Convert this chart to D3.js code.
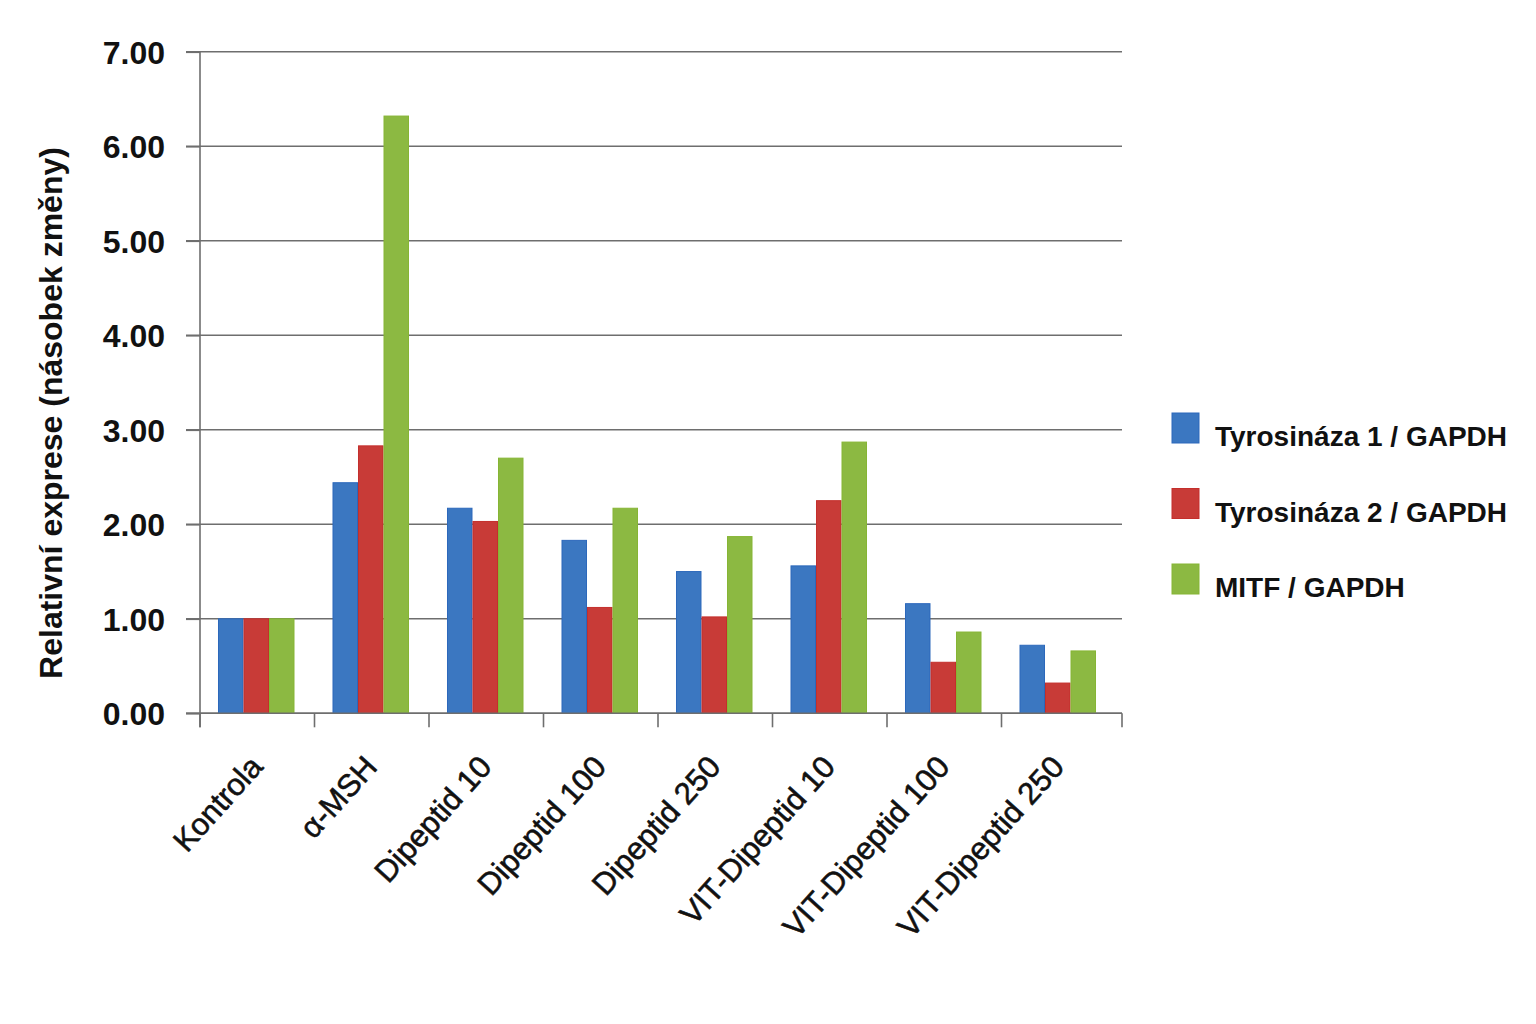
<!DOCTYPE html>
<html>
<head>
<meta charset="utf-8">
<script src="https://cdn.jsdelivr.net/npm/d3@7"></script>
<style>
  html, body { margin: 0; padding: 0; background: #ffffff; }
  svg { display: block; }
</style>
</head>
<body>
<svg id="chart" width="1536" height="1024"></svg>
<script>
// ---- data ----
const categories = ["Kontrola", "\u03B1-MSH", "Dipeptid 10", "Dipeptid 100", "Dipeptid 250", "VIT-Dipeptid 10", "VIT-Dipeptid 100", "VIT-Dipeptid 250"];
const seriesNames = ["Tyrosináza 1 / GAPDH", "Tyrosináza 2 / GAPDH", "MITF / GAPDH"];
const tyrosinaza1 = [1.00, 2.44, 2.17, 1.83, 1.50, 1.56, 1.16, 0.72];
const tyrosinaza2 = [1.00, 2.83, 2.03, 1.12, 1.02, 2.25, 0.54, 0.32];
const mitf        = [1.00, 6.32, 2.70, 2.17, 1.87, 2.87, 0.86, 0.66];
const yTicks = [0, 1, 2, 3, 4, 5, 6, 7];
const yTitle = "Relativní exprese (násobek změny)";

const seriesValues = [tyrosinaza1, tyrosinaza2, mitf];
const colors = ["#3b77c1", "#c83b37", "#8cb942"];
const strokes = ["#2c68bb", "#c42f2c", "#86b534"];

// ---- layout ----
const svg = d3.select("#chart");
const plotLeft = 200, plotRight = 1122, bandRight = 1116, plotTop = 51.8, plotBottom = 713.3;

const x = d3.scaleBand().domain(categories).range([plotLeft, bandRight]).padding(0);
const x1 = d3.scaleBand().domain(seriesNames).range([-1, x.bandwidth() - 1]).paddingInner(0).paddingOuter(0.745);
const y = d3.scaleLinear().domain([0, 7]).range([plotBottom, plotTop]);

// gridlines
svg.append("g").selectAll("line").data(yTicks).join("line")
  .attr("x1", plotLeft - 14).attr("x2", plotRight)
  .attr("y1", d => y(d)).attr("y2", d => y(d))
  .attr("stroke", "#6e6e6e").attr("stroke-width", 1.6);

// y axis labels
const yAxis = d3.axisLeft(y).tickValues(yTicks).tickFormat(d3.format(".2f")).tickSize(14).tickPadding(21);
const gy = svg.append("g").attr("transform", `translate(${plotLeft},0)`).call(yAxis);
gy.select(".domain").remove();
gy.selectAll(".tick line").attr("stroke", "#6e6e6e").attr("stroke-width", 1.6);
gy.selectAll(".tick text")
  .attr("font-family", "'Liberation Sans', Arial, sans-serif")
  .attr("font-weight", "bold").attr("font-size", 32).attr("fill", "#111")
  .attr("dy", "0.36em");

// y axis line
svg.append("line").attr("x1", plotLeft).attr("x2", plotLeft).attr("y1", plotTop).attr("y2", plotBottom + 14)
  .attr("stroke", "#6e6e6e").attr("stroke-width", 1.6);

// bars
const groups = svg.append("g").selectAll("g").data(categories).join("g")
  .attr("transform", c => `translate(${x(c)},0)`);
groups.selectAll("rect").data((c, i) => seriesNames.map((s, k) => ({ s, k, v: seriesValues[k][i] })))
  .join("rect")
  .attr("x", d => x1(d.s) + 0.5)
  .attr("width", x1.bandwidth() - 1)
  .attr("y", d => y(d.v))
  .attr("height", d => y(0) - y(d.v))
  .attr("fill", d => colors[d.k])
  .attr("stroke", d => strokes[d.k])
  .attr("stroke-width", 1);

// x axis baseline + ticks at band boundaries (and at the axis ends)
svg.append("line").attr("x1", plotLeft - 14).attr("x2", plotRight).attr("y1", plotBottom).attr("y2", plotBottom)
  .attr("stroke", "#6e6e6e").attr("stroke-width", 1.6);
const boundaries = categories.map(c => x(c)).concat([plotRight]);
svg.append("g").selectAll("line").data(boundaries).join("line")
  .attr("x1", d => d).attr("x2", d => d).attr("y1", plotBottom).attr("y2", plotBottom + 14)
  .attr("stroke", "#6e6e6e").attr("stroke-width", 1.6);

// x labels
svg.append("g").selectAll("text").data(categories).join("text")
  .attr("transform", c => `translate(${x(c) + x.bandwidth() / 2 + 7},768) rotate(-48)`)
  .attr("text-anchor", "end")
  .attr("font-family", "'Liberation Sans', Arial, sans-serif")
  .attr("font-size", 31).attr("fill", "#111")
  .attr("stroke", "#111").attr("stroke-width", 0.6)
  .text(c => c);

// y title
svg.append("text")
  .attr("transform", "translate(62,413) rotate(-90)")
  .attr("text-anchor", "middle")
  .attr("font-family", "'Liberation Sans', Arial, sans-serif")
  .attr("font-weight", "bold").attr("font-size", 32).attr("fill", "#111")
  .text(yTitle);

// legend
const legend = svg.append("g").selectAll("g").data(seriesNames).join("g")
  .attr("transform", (d, i) => `translate(1172,${413 + i * 75.5})`);
legend.append("rect").attr("width", 27).attr("height", 30)
  .attr("fill", (d, i) => colors[i]).attr("stroke", (d, i) => strokes[i]).attr("stroke-width", 1);
legend.append("text").attr("x", 43).attr("y", 33)
  .attr("font-family", "'Liberation Sans', Arial, sans-serif")
  .attr("font-weight", "bold").attr("font-size", 28).attr("fill", "#111")
  .text(d => d);
</script>
</body>
</html>
